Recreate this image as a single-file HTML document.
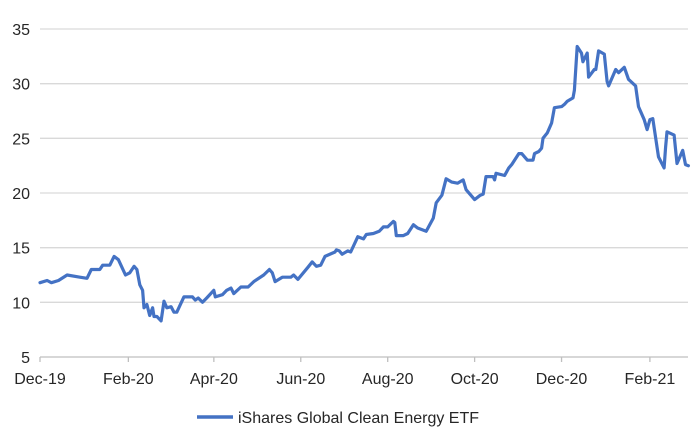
<!DOCTYPE html>
<html><head><meta charset="utf-8"><style>
body{margin:0;background:#fff;}
svg{display:block;font-family:"Liberation Sans",Arial,sans-serif;}
</style></head><body>
<svg id="chart" width="700" height="442">
<g id="grid"></g>
<g id="yaxis"></g>
<g id="xaxis"></g>
<g id="series"></g>
<g>
<line x1="197" y1="417" x2="233" y2="417" stroke="#4472c4" stroke-width="3.5"/>
<text x="238" y="423" font-size="16" fill="#262626">iShares Global Clean Energy ETF</text>
</g>
</svg>
<script>
const dayOffsets=[0,5,8,13,19,28,33,36,42,44,49,52,55,60,63,66,68,70,72,73,75,77,79,80,82,85,87,89,92,94,96,101,107,109,111,114,117,122,123,128,131,134,136,141,146,150,157,161,163,165,170,176,178,181,188,191,194,197,200,207,208,210,212,216,218,223,227,229,234,238,241,244,248,249,250,255,258,262,265,271,276,278,282,285,289,293,297,299,305,309,311,313,318,319,320,326,329,331,336,338,342,346,347,350,352,353,356,359,361,366,368,370,374,375,377,380,381,384,385,389,390,392,396,398,399,404,406,410,413,418,420,424,426,428,430,434,438,439,440,445,447,451,453,455];
const prices=[11.8,12.0,11.8,12.0,12.5,12.3,12.2,13.0,13.0,13.4,13.4,14.2,13.9,12.5,12.7,13.3,13.0,11.6,11.1,9.5,9.8,8.8,9.5,8.7,8.7,8.3,10.1,9.5,9.6,9.1,9.1,10.5,10.5,10.2,10.4,10.0,10.4,11.1,10.5,10.7,11.1,11.3,10.8,11.4,11.4,11.9,12.5,13.0,12.7,11.9,12.3,12.3,12.5,12.1,13.2,13.7,13.3,13.4,14.2,14.6,14.8,14.7,14.4,14.7,14.6,16.0,15.8,16.2,16.3,16.5,16.9,16.9,17.4,17.3,16.1,16.1,16.3,17.1,16.8,16.5,17.7,19.1,19.8,21.3,21.0,20.9,21.2,20.3,19.4,19.8,19.9,21.5,21.5,21.2,21.8,21.6,22.3,22.6,23.6,23.6,23.0,23.0,23.6,23.8,24.1,25.0,25.5,26.4,27.8,27.9,28.1,28.4,28.7,29.4,33.4,32.8,32.0,32.8,30.6,31.3,31.3,33.0,32.7,30.2,29.8,31.3,31.0,31.5,30.4,29.8,27.9,26.7,25.8,26.7,26.8,23.3,22.3,24.2,25.6,25.3,22.7,23.9,22.6,22.5];
const yTicks=[5,10,15,20,25,30,35];
const xTickDays=[0,62,122,183,244,305,366,428];
const xTickLabels=["Dec-19","Feb-20","Apr-20","Jun-20","Aug-20","Oct-20","Dec-20","Feb-21"];
const NS="http://www.w3.org/2000/svg";
const X0=40,X1=688,Y0=357,Y1=29;
function xs(d){return X0+d*1.425;}
function ys(v){return Y0-(v-5)/30*(Y0-Y1);}
function mk(t,a,p){const e=document.createElementNS(NS,t);for(const k in a)e.setAttribute(k,a[k]);p.appendChild(e);return e;}
const grid=document.getElementById('grid'),ya=document.getElementById('yaxis'),xa=document.getElementById('xaxis'),ser=document.getElementById('series');
yTicks.forEach(v=>{
 if(v>5){const g=mk('line',{x1:X0,x2:X1,y1:ys(v),y2:ys(v),stroke:'#d9d9d9','stroke-width':1.3},grid);
 
 }
 const t=mk('text',{x:30,y:ys(v)+6,'text-anchor':'end','font-size':16,fill:'#262626'},ya);t.textContent=v;
 
 
});
const ax=mk('line',{x1:X0,x2:X1,y1:Y0,y2:Y0,stroke:'#bfbfbf','stroke-width':1.3},xa);


xTickDays.forEach((d,i)=>{
 const tk=mk('line',{x1:xs(d),x2:xs(d),y1:Y0,y2:Y0+5,stroke:'#bfbfbf','stroke-width':1.3},xa);
 
 
 const t=mk('text',{x:xs(d),y:Y0+27,'text-anchor':'middle','font-size':16,fill:'#262626'},xa);t.textContent=xTickLabels[i];
 
 
});
const pts=dayOffsets.map((d,i)=>xs(d).toFixed(1)+','+ys(prices[i]).toFixed(1)).join(' ');
const pl=mk('polyline',{points:pts,fill:'none',stroke:'#4472c4','stroke-width':3.2,'stroke-linejoin':'round','stroke-linecap':'round'},ser);


</script>
</body></html>
